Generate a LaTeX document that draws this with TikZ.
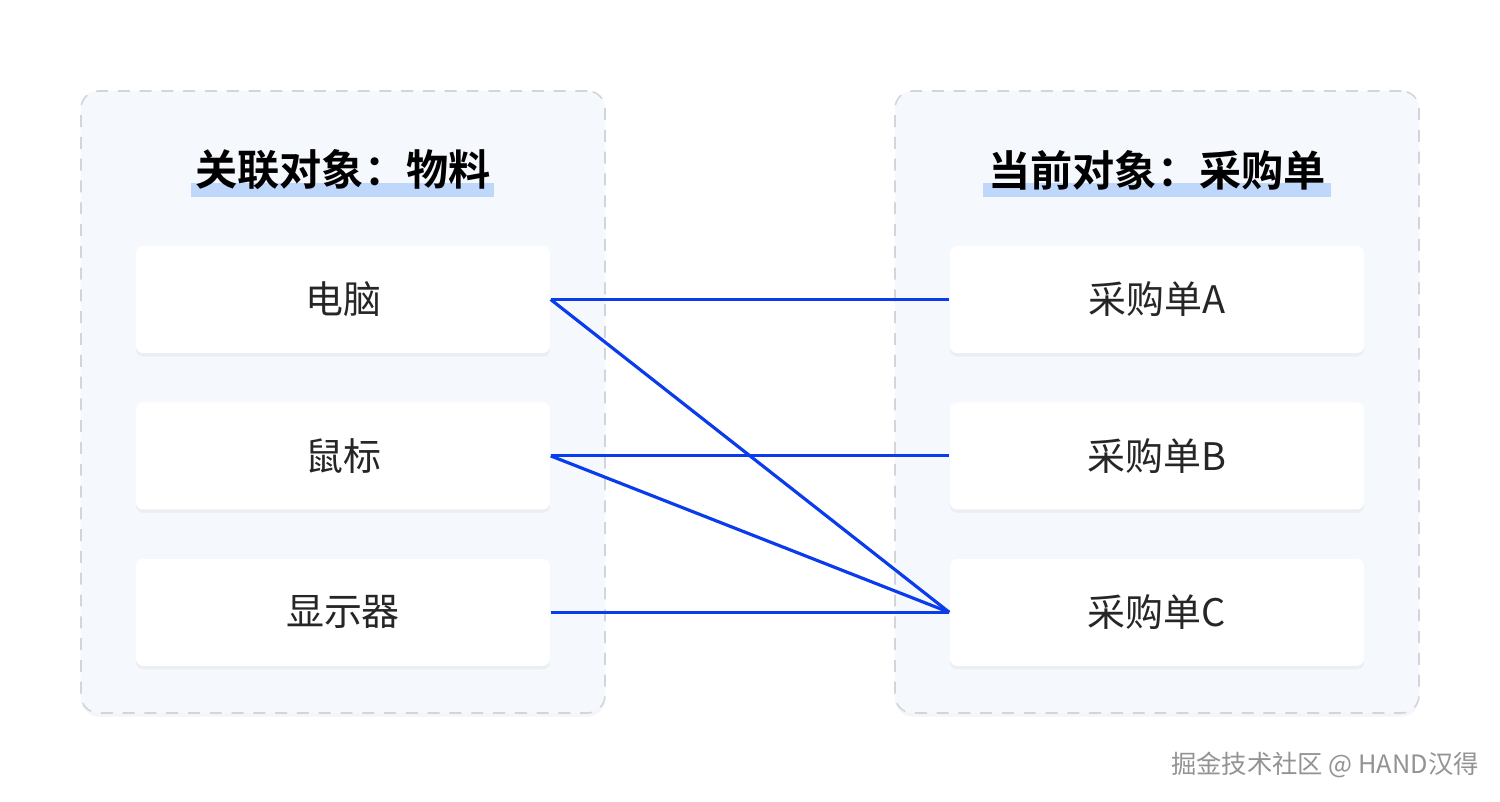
\documentclass[tikz,border=0pt]{standalone}
\usepackage{fontspec}
\setmainfont{Noto Sans CJK SC}[BoldFont={Noto Sans CJK SC Bold}]
\usetikzlibrary{positioning,calc,shadows}
\definecolor{panelfill}{RGB}{245,248,252}
\definecolor{paneldash}{RGB}{210,214,220}
\definecolor{hlblue}{RGB}{190,215,250}
\definecolor{linkblue}{RGB}{10,60,235}
\definecolor{txtdark}{RGB}{38,38,38}
\tikzset{
  panel/.style={draw=paneldash, line width=0.45pt, dash pattern=on 3.4pt off 2.8pt,
                fill=panelfill, rounded corners=5pt, minimum width=5.24cm, minimum height=6.22cm,
                drop shadow={shadow xshift=0pt, shadow yshift=-1pt, opacity=0.04, fill=black}},
  item/.style={fill=white, rounded corners=2pt, minimum width=4.14cm, minimum height=1.07cm,
               font=\fontsize{10.8}{12}\selectfont, text=txtdark,
               drop shadow={shadow xshift=0pt, shadow yshift=-1pt, opacity=0.04, fill=black}},
  ttl/.style={font=\fontsize{12}{14}\selectfont\bfseries, inner sep=0pt},
  hlbar/.style={fill=hlblue},
  link/.style={linkblue, line width=0.9pt},
  wmark/.style={font=\fontsize{7.2}{8}\selectfont, text=gray!85},
}
\begin{document}
\begin{tikzpicture}
  \useasboundingbox[fill=white] (0,0) rectangle (15,8.02);
  \node[panel] (lpanel) at (3.43,4.00) {};
  \node[panel] (rpanel) at (11.57,4.00) {};
  % title bars
  \fill[hlbar] (1.91,6.05) rectangle (4.94,6.19);
  \fill[hlbar] (9.83,6.05) rectangle (13.31,6.19);
  \node[ttl] (ltitle) at (3.43,6.32) {关联对象：物料};
  \node[ttl] (rtitle) at (11.57,6.32) {当前对象：采购单};
  % left column
  \node[item] (pc) at (3.43,5.025) {电脑};
  \node[item, below=0.48cm of pc] (mouse) {鼠标};
  \node[item, below=0.48cm of mouse] (monitor) {显示器};
  % right column
  \node[item] (poa) at (11.57,5.025) {采购单A};
  \node[item, below=0.48cm of poa] (pob) {采购单B};
  \node[item, below=0.48cm of pob] (poc) {采购单C};
  % links
  \draw[link] (pc.east) -- (poa.west);
  \draw[link] (pc.east) -- (poc.west);
  \draw[link] (mouse.east) -- (pob.west);
  \draw[link] (mouse.east) -- (poc.west);
  \draw[link] (monitor.east) -- (poc.west);
  \node[wmark] (mark) at (13.25,0.37) {掘金技术社区 @ HAND汉得};
\end{tikzpicture}
\end{document}
